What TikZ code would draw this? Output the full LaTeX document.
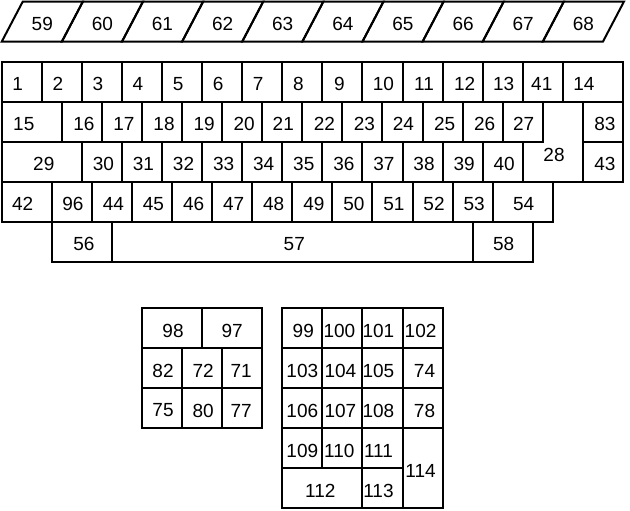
\documentclass[tikz,border=0pt]{standalone}
\usepackage{fontspec}
\setmainfont{Liberation Sans}
\tikzset{
  keyline/.style={line width=2pt, line join=miter},
  lbl/.style={inner sep=0pt, font=\fontsize{19}{21}\selectfont},
}
% key: x (units), width (units), top y (px), height (px), label, label dx (px)
\newcommand\kb[6]{%
  \draw[keyline] ({1.7+(#1)*40.08},#3) rectangle ({1.7+(#1+#2)*40.08},{#3+#4});
  \node[lbl] (k#5) at ({1.7+(#1+(#2)/2)*40.08+(#6)},{#3+(#4)/2+2.5}) {#5};
}
% slanted function key: index, label
\newcommand\pk[2]{%
  \draw[keyline] ({1.7+(#1)*60.12},41.7) -- ({1.7+(#1)*60.12+21},1.7) -- ({1.7+(#1+1)*60.12+21},1.7) -- ({1.7+(#1+1)*60.12},41.7) -- cycle;
  \node[lbl] (k#2) at ({1.7+(#1+0.5)*60.12+10.5},24.2) {#2};
}
\begin{document}
\begin{tikzpicture}[x=1pt,y=-1pt]
\useasboundingbox (0,0) rectangle (630,511);
% function keys
\pk{0}{59}\pk{1}{60}\pk{2}{61}\pk{3}{62}\pk{4}{63}
\pk{5}{64}\pk{6}{65}\pk{7}{66}\pk{8}{67}\pk{9}{68}
% row 1
\kb{0}{1}{61.7}{40}{1}{-4}
\kb{1}{1}{61.7}{40}{2}{-4}
\kb{2}{1}{61.7}{40}{3}{-4}
\kb{3}{1}{61.7}{40}{4}{-4}
\kb{4}{1}{61.7}{40}{5}{-4}
\kb{5}{1}{61.7}{40}{6}{-4}
\kb{6}{1}{61.7}{40}{7}{-4}
\kb{7}{1}{61.7}{40}{8}{-4}
\kb{8}{1}{61.7}{40}{9}{-3}
\kb{9}{1}{61.7}{40}{10}{1}
\kb{10}{1}{61.7}{40}{11}{1.5}
\kb{11}{1}{61.7}{40}{12}{2}
\kb{12}{1}{61.7}{40}{13}{1}
\kb{13}{1}{61.7}{40}{41}{-1}
\kb{14}{1.5}{61.7}{40}{14}{-9}
% row 2
\kb{0}{1.5}{101.7}{40}{15}{-8}
\kb{1.5}{1}{101.7}{40}{16}{2}
\kb{2.5}{1}{101.7}{40}{17}{2}
\kb{3.5}{1}{101.7}{40}{18}{2}
\kb{4.5}{1}{101.7}{40}{19}{2}
\kb{5.5}{1}{101.7}{40}{20}{2}
\kb{6.5}{1}{101.7}{40}{21}{1}
\kb{7.5}{1}{101.7}{40}{22}{2}
\kb{8.5}{1}{101.7}{40}{23}{2}
\kb{9.5}{1}{101.7}{40}{24}{1}
\kb{10.5}{1}{101.7}{40}{25}{2}
\kb{11.5}{1}{101.7}{40}{26}{2}
\kb{12.5}{1}{101.7}{40}{27}{1}
\kb{14.5}{1}{101.7}{40}{83}{2}
% row 3
\kb{0}{2}{141.7}{40}{29}{2}
\kb{2}{1}{141.7}{40}{30}{1.5}
\kb{3}{1}{141.7}{40}{31}{1.5}
\kb{4}{1}{141.7}{40}{32}{1.5}
\kb{5}{1}{141.7}{40}{33}{1.5}
\kb{6}{1}{141.7}{40}{34}{1.5}
\kb{7}{1}{141.7}{40}{35}{1.5}
\kb{8}{1}{141.7}{40}{36}{1.5}
\kb{9}{1}{141.7}{40}{37}{1.5}
\kb{10}{1}{141.7}{40}{38}{1.5}
\kb{11}{1}{141.7}{40}{39}{1.5}
\kb{12}{1}{141.7}{40}{40}{1.5}
\kb{14.5}{1}{141.7}{40}{43}{2}
% enter key 28
\draw[keyline] ({1.7+13.5*40.08},101.7) -- ({1.7+14.5*40.08},101.7) -- ({1.7+14.5*40.08},181.7) -- ({1.7+13*40.08},181.7) -- ({1.7+13*40.08},141.7) -- ({1.7+13.5*40.08},141.7) -- cycle;
\node[lbl] (k28) at (554,155) {28};
% row 4
\kb{0}{1.25}{181.7}{40}{42}{-4}
\kb{1.25}{1}{181.7}{40}{96}{1}
\kb{2.25}{1}{181.7}{40}{44}{1.5}
\kb{3.25}{1}{181.7}{40}{45}{1.5}
\kb{4.25}{1}{181.7}{40}{46}{1.5}
\kb{5.25}{1}{181.7}{40}{47}{1.5}
\kb{6.25}{1}{181.7}{40}{48}{1.5}
\kb{7.25}{1}{181.7}{40}{49}{1.5}
\kb{8.25}{1}{181.7}{40}{50}{1.5}
\kb{9.25}{1}{181.7}{40}{51}{1.5}
\kb{10.25}{1}{181.7}{40}{52}{1.5}
\kb{11.25}{1}{181.7}{40}{53}{1.5}
\kb{12.25}{1.5}{181.7}{40}{54}{1}
% row 5
\kb{1.25}{1.5}{221.7}{40}{56}{2}
\kb{2.75}{9}{221.7}{40}{57}{2}
\kb{11.75}{1.5}{221.7}{40}{58}{1}
% keypad 1
\kb{3.5}{1.5}{308}{40}{98}{1}
\kb{5}{1.5}{308}{40}{97}{0}
\kb{3.5}{1}{348}{40}{82}{1}
\kb{4.5}{1}{348}{40}{72}{1}
\kb{5.5}{1}{348}{40}{71}{-1}
\kb{3.5}{1}{388}{40}{75}{1}
\kb{4.5}{1}{388}{40}{80}{1}
\kb{5.5}{1}{388}{40}{77}{-1}
% keypad 2
\kb{7}{1}{308}{40}{99}{1}
\kb{8}{1}{308}{40}{100}{-3}
\kb{9}{1}{308}{40}{101}{-4}
\kb{10}{1}{308}{40}{102}{-2}
\kb{7}{1}{348}{40}{103}{0}
\kb{8}{1}{348}{40}{104}{-2}
\kb{9}{1}{348}{40}{105}{-4}
\kb{10}{1}{348}{40}{74}{2}
\kb{7}{1}{388}{40}{106}{0}
\kb{8}{1}{388}{40}{107}{-2}
\kb{9}{1}{388}{40}{108}{-4}
\kb{10}{1}{388}{40}{78}{2}
\kb{7}{1}{428}{40}{109}{0}
\kb{8}{1}{428}{40}{110}{-3}
\kb{9}{1}{428}{40}{111}{-4}
\kb{10}{1}{428}{80}{114}{-2}
\kb{7}{2}{468}{40}{112}{-2}
\kb{9}{1}{468}{40}{113}{-4}
\end{tikzpicture}
\end{document}
